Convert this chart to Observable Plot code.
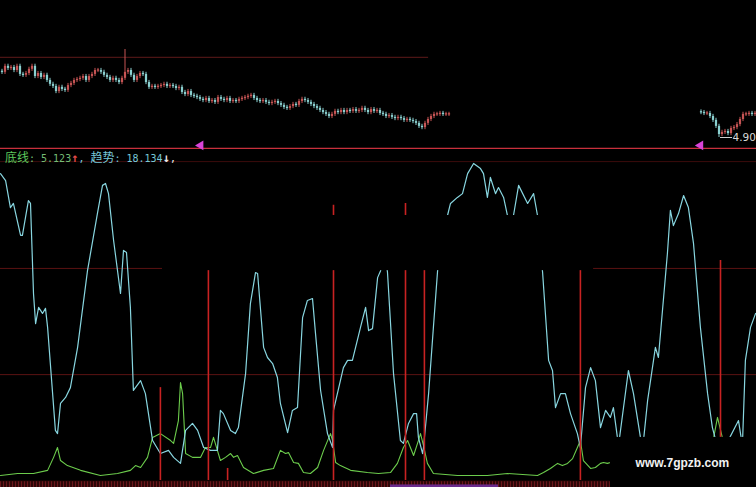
<!DOCTYPE html>
<html><head><meta charset="utf-8">
<script src="https://cdn.jsdelivr.net/npm/d3@7"></script>
<script src="https://cdn.jsdelivr.net/npm/@observablehq/plot@0.6"></script>
<style>
html,body{margin:0;padding:0;background:#000;}
#wrap{position:relative;width:756px;height:487px;overflow:hidden;background:#000;}
#wrap svg{position:absolute;left:0;top:0;}
#label{position:absolute;left:5px;top:150px;font-family:"DejaVu Sans Mono",monospace;font-size:10px;white-space:pre;line-height:14px;z-index:5;}
#label .cjk{font-family:"Noto Sans CJK SC",sans-serif;font-size:12px;}
#label .arr{font-size:12px;font-weight:bold;}
</style></head>
<body><div id="wrap"><div id="label"></div></div>
<script>
// ---- price panel (candles, open = previous close) ----
const leftStart = 0;
const leftFirstOpen = 7.10;
const leftCloses = [
 7.07,7.27,7.20,7.23,7.13,7.27,7.00,6.97,7.03,7.17,
 7.27,6.93,7.03,6.90,6.97,6.80,6.67,6.60,6.43,6.57,
 6.50,6.47,6.63,6.70,6.80,6.83,6.87,6.93,6.80,6.93,
 7.00,7.13,7.13,7.07,6.97,6.90,6.80,6.87,6.80,6.73,
 6.87,7.07,7.13,6.97,6.80,6.93,7.03,7.00,6.73,6.57,
 6.60,6.57,6.60,6.63,6.67,6.60,6.63,6.60,6.53,6.57,
 6.40,6.33,6.43,6.30,6.27,6.23,6.17,6.13,6.20,6.10,
 6.13,6.07,6.23,6.17,6.13,6.20,6.10,6.13,6.10,6.17,
 6.20,6.23,6.27,6.30,6.20,6.13,6.10,6.13,6.07,6.03,
 6.07,6.10,6.03,5.97,5.90,5.87,5.93,6.00,5.97,6.10,
 6.17,6.13,6.07,6.00,5.93,5.87,5.80,5.73,5.67,5.60,
 5.67,5.77,5.73,5.80,5.73,5.80,5.77,5.83,5.77,5.80,
 5.87,5.80,5.73,5.83,5.77,5.80,5.70,5.67,5.60,5.63,
 5.57,5.53,5.57,5.53,5.47,5.50,5.47,5.43,5.37,5.27,
 5.23,5.37,5.50,5.60,5.67,5.67,5.70,5.67,5.67,5.67];
const rightStart = 233;
const rightFirstOpen = 5.75;
const rightCloses = [5.73,5.70,5.70,5.60,5.47,5.27,5.00,5.07,5.10,5.03,5.20,5.23,5.33,5.50,5.67,5.67,5.70,5.67,5.70];
const highIdx = [41]; const highVal = [7.83];
const lowIdx = [239]; const lowVal = [4.90];
const priceHighLine = 7.57;
const lowLabel = "4.90";

// ---- indicator panel ----
const baseName = "底线", trendName = "趋势";
const baseLast = "5.123", trendLast = "18.134";
const trendIdx = [0,1.7,3.3,4.3,6.7,7.3,9.3,10,11,11.7,12.7,14,15,15.7,18.3,19,20,21.7,23.3,25.7,29,32.3,34,35,36,37.7,40,41,42,43.3,44.3,46.7,48.3,50.7,53.3,56,57.7,60,61.7,64,65.7,67.7,70,72.3,73.3,74.3,76.7,78.3,79.3,81.7,83.3,85,85.7,87.7,89,90.7,92.3,93.3,95.7,97.3,99,100.7,102.3,104,105,106.7,109,110.7,111,114.3,115.7,117.3,120,121.7,122.7,124,125.7,126.7,127.7,129,131,133.3,134.3,136,137.7,138.7,139.3,140.7,141,142.7,144.3,145.7,149,150,152.3,154,155.7,157.7,160,161,162.3,163.3,165,166,167.7,169.7,171,172.7,175.7,177.7,179,180.7,182.7,184,185,186.7,188.3,190,192.3,193.3,195,196.7,198.3,200,201.7,203.3,204.3,206,209.3,211,214,215.7,218.3,219.3,222.3,223.3,224.3,226,227.7,229.3,231,233.3,235.7,237.3,239.3,241.7,246,247.3,248.3,250,251.7];
const trendVal = [96.8,94.6,86.1,87.4,77.3,77.3,88.3,87.4,59.0,49.5,54.6,52.7,54.3,48.3,15.8,14.8,24.3,26.2,29.3,42.0,66.2,84.2,93.1,93.7,90.5,75.7,59.0,72.6,71.9,54.6,28.4,31.5,27.4,12.6,8.5,9.5,7.3,5.4,15.8,18.0,15.8,10.4,9.5,9.5,22.1,21.1,15.8,14.8,16.7,33.8,55.8,65.6,65.3,42.0,38.8,36.9,32.5,24.3,15.1,22.1,23.0,51.4,56.8,57.4,46.4,28.4,14.8,10.4,22.1,35.6,37.9,37.9,48.3,54.6,47.3,47.9,64.0,66.2,75.7,65.6,33.8,12.6,11.7,18.0,21.1,21.1,13.6,8.5,10.4,27.4,48.3,66.2,83.6,87.4,89.3,90.5,96.8,100,98.4,96.8,89.3,95.6,90.5,92.4,89.3,80.4,83.6,93.1,87.4,90.5,83.6,65.6,37.9,34.7,23.0,27.4,27.4,21.1,14.8,10.4,29.3,35.6,31.5,16.7,22.1,19.9,23.0,11.0,34.7,27.4,9.5,25.2,42.0,38.8,71.6,85.2,80.4,84.2,89.9,86.1,74.8,48.3,27.4,16.7,9.5,11.0,18.9,11.0,37.9,48.3,52.7];
const baseIdx = [0,5.7,11,15.7,17.7,19,20,22.3,26.7,33.3,39,43.3,45,46.7,49,50,50.7,53.3,56.7,57.7,59.3,60,60.7,61.7,64,66.7,68.3,70,71,72.3,73.3,75,76.7,77.7,79,81,84.3,87.7,91,93.3,95,96,97.7,99.3,101,103.3,105.7,107.7,110,110.7,111.7,113.3,116.7,122.3,126,130,132.3,134.3,135.7,137.7,139.3,140,141,142.3,144.3,152.3,162.3,169,179,181,183.3,185.7,187.3,189,190.7,192.3,193.3,194.3,196.7,198.3,200,201,202.3,203.3,210,225,233,237,239,240,242,246,252];
const baseVal = [1.6,2.2,2.2,3.2,7.3,10.4,6.3,4.7,3.2,1.6,2.2,3.2,4.7,4.1,7.3,11.0,13.6,14.8,12.6,11.7,18.9,30.9,27.4,8.5,7.3,7.3,10.4,10.4,13.6,9.5,6.3,7.3,8.5,7.3,7.9,4.1,2.2,3.2,3.8,9.5,8.5,8.8,5.7,5.4,2.5,2.2,4.1,9.5,14.8,12.6,5.7,4.7,3.2,2.5,2.2,2.5,5.4,10.4,12.6,7.9,12.6,14.8,11.0,5.4,2.2,1.6,1.6,2.2,1.6,2.5,3.8,5.4,4.7,5.4,6.9,10.4,12.6,6.3,3.8,4.1,5.4,5.7,5.4,5.7,4.0,3.0,5.0,10.0,19.9,16.0,8.0,4.0,3.0];
const signalIdx = [53.3,69.3,75.7,111,135,141.3,193.3,240];
const signalTop = [29.3,72,3.8,86.8,87.4,72,72,69.4];
const gridLevels = [33.4,66.9];
const markerIdx = [66.7,233.3];
// occluded areas of the screenshot (black boxes)
const maskX1 = [54,203.3], maskX2 = [197.7,260], maskY1 = [66.2,-5], maskY2 = [83.6,13.6];
const axisEnd = 203.3, highlightFrom = 130, highlightTo = 166;
const watermark = "www.7gpzb.com";

const RED = "#c65454", CYAN = "#8ad0d0";
function build(closes, start, firstOpen) {
  return closes.map((c, k) => {
    const i = start + k;
    const o = k === 0 ? firstOpen : closes[k - 1];
    let hi = Math.max(o, c) + 0.07, lo = Math.min(o, c) - 0.07;
    const h = highIdx.indexOf(i); if (h >= 0) hi = highVal[h];
    const l = lowIdx.indexOf(i); if (l >= 0) lo = lowVal[l];
    const mid = (o + c) / 2;
    const b1 = Math.abs(o - c) < 0.04 ? mid - 0.022 : Math.min(o, c);
    const b2 = Math.abs(o - c) < 0.04 ? mid + 0.022 : Math.max(o, c);
    return {i, o, c, hi, lo, b1, b2, col: c >= o ? RED : CYAN};
  });
}
const candles = build(leftCloses, leftStart, leftFirstOpen).concat(build(rightCloses, rightStart, rightFirstOpen));
const trend = trendIdx.map((x, k) => ({i: x, v: trendVal[k]}));
const base = baseIdx.map((x, k) => ({i: x, v: baseVal[k]}));
const signals = signalIdx.map((x, k) => ({i: x, top: signalTop[k]}));
const masks = maskX1.map((x, k) => ({x1: x, x2: maskX2[k], y1: maskY1[k], y2: maskY2[k]}));
const ticks = d3.range(0, Math.floor(axisEnd) + 1, 1);

const ind = Plot.plot({
  width: 756, height: 487, margin: 0,
  style: {background: "#000", overflow: "visible"},
  x: {domain: [0, 252], range: [0, 756], axis: null},
  y: {domain: [0, 100], range: [480, 163], axis: null},
  marks: [
    Plot.ruleY([100.6], {stroke: "#3c0c0c"}),
    Plot.ruleY(gridLevels, {stroke: "#5a1212"}),
    Plot.ruleY([104.8], {stroke: "#c8303c", strokeWidth: 1.3}),
    Plot.dot(markerIdx, {x: d => d, y: 105.7, symbol: "triangle", rotate: -90, r: 3.6, fill: "#d844d8", stroke: "none"}),
    Plot.line(base, {x: "i", y: "v", stroke: "#6ccc4c", strokeWidth: 1.1}),
    Plot.line(trend, {x: "i", y: "v", stroke: "#88d6e0", strokeWidth: 1.2}),
    Plot.ruleX(signals, {x: "i", y1: 0, y2: "top", stroke: "#c82222", strokeWidth: 1.6}),
    Plot.rect([0], {x1: 0, x2: axisEnd, y1: -0.2, y2: -2.6, fill: "#2e0608"}),
    Plot.ruleX(ticks, {x: d => d, y1: -0.4, y2: -2.6, stroke: "#7a1c22", strokeWidth: 0.8}),
    Plot.rect([0], {x1: highlightFrom, x2: highlightTo, y1: -1.4, y2: -2.6, fill: "#6a2a8c"}),
    Plot.rect(masks, {x1: "x1", x2: "x2", y1: "y1", y2: "y2", fill: "#000"}),
    Plot.text([watermark], {x: 227.3, y: 5.4, text: d => d, fill: "#f2f2f2", fontSize: 12, fontWeight: "bold", fontFamily: "Liberation Sans, Arial, sans-serif"})
  ]
});

const px = Plot.plot({
  width: 756, height: 487, margin: 0,
  style: {background: "transparent", overflow: "visible"},
  color: {type: "identity"},
  x: {domain: [0, 252], range: [0, 756], axis: null},
  y: {domain: [4.9, 7.83], range: [137, 49], axis: null},
  marks: [
    Plot.ruleY([priceHighLine], {x1: 0, x2: 142.7, stroke: "#5e1a1a"}),
    Plot.ruleX(candles, {x: d => d.i + 0.5, y1: "lo", y2: "hi", stroke: "col", strokeWidth: 1}),
    Plot.ruleX(candles, {x: d => d.i + 0.5, y1: "b1", y2: "b2", stroke: "col", strokeWidth: 2.2}),
    Plot.ruleY([4.9], {x1: 240, x2: 244, stroke: "#d0d0d0"}),
    Plot.text([lowLabel], {x: 251.8, y: 4.9, text: d => d, fill: "#d8d8d8", textAnchor: "end", fontSize: 10.5, fontFamily: "DejaVu Sans, sans-serif"})
  ]
});

const wrap = document.getElementById("wrap");
wrap.appendChild(ind);
wrap.appendChild(px);
document.getElementById("label").innerHTML =
  `<span class="cjk" style="color:#5cc85c">${baseName}</span><span style="color:#74bc74">: ${baseLast}</span><span class="arr" style="color:#e24a4a">↑</span><span style="color:#78c8d8">, </span><span class="cjk" style="color:#78c8d8">${trendName}</span><span style="color:#78c8d8">: ${trendLast}</span><span class="arr" style="color:#e8e8e8">↓</span><span style="color:#e8e8e8">,</span>`;
</script>
</body></html>
